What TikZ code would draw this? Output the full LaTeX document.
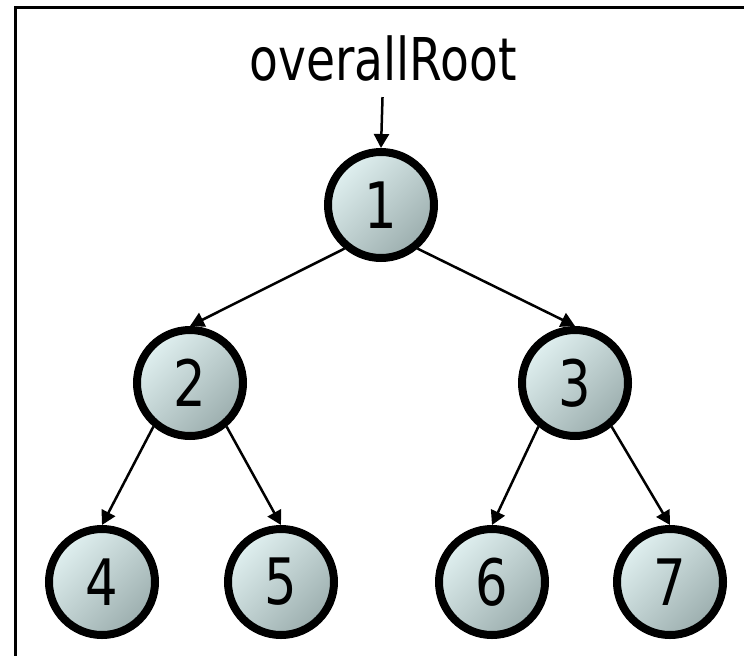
\documentclass[tikz,border=0pt]{standalone}
\usepackage{fontspec}
\setmainfont[FakeStretch=0.8]{DejaVu Sans}
\usetikzlibrary{arrows.meta}

\definecolor{nodelight}{RGB}{224,240,240}
\definecolor{nodedark}{RGB}{156,174,174}

\tikzset{
  tnode/.style={circle, draw=black, line width=8pt, minimum size=106pt, inner sep=0pt,
    top color=nodelight, bottom color=nodedark, shading angle=45,
    font=\fontsize{64}{64}\selectfont},
  rootlbl/.style={anchor=base, inner sep=0pt, font=\fontsize{59}{59}\selectfont},
  link/.style={line width=2.5pt, -{Triangle[length=14pt,width=15pt]}}
}

\begin{document}
\begin{tikzpicture}[x=1pt, y=-1pt]
  % albero binario, overallRoot
  \useasboundingbox (0,0) rectangle (744,656);
  \draw[line width=3pt] (744,7) -- (15,7) -- (15,656);
  \node[rootlbl] (root) at (383,80) {overallRoot};
  \node[tnode] (n1) at (381,205) {1};
  \node[tnode] (n2) at (190,383) {2};
  \node[tnode] (n3) at (575,383) {3};
  \foreach \n/\x in {4/102, 5/281, 6/492, 7/670}{
    \node[tnode] (n\n) at (\x,582) {\n};
  }
  \draw[link, shorten <=16pt] (root.south) -- (n1.north);
  \foreach \p/\a/\b in {1/2/3, 2/4/5, 3/6/7}{
    \draw[link] (n\p.230) -- (n\a.north);
    \draw[link] (n\p.310) -- (n\b.north);
  }
\end{tikzpicture}
\end{document}
